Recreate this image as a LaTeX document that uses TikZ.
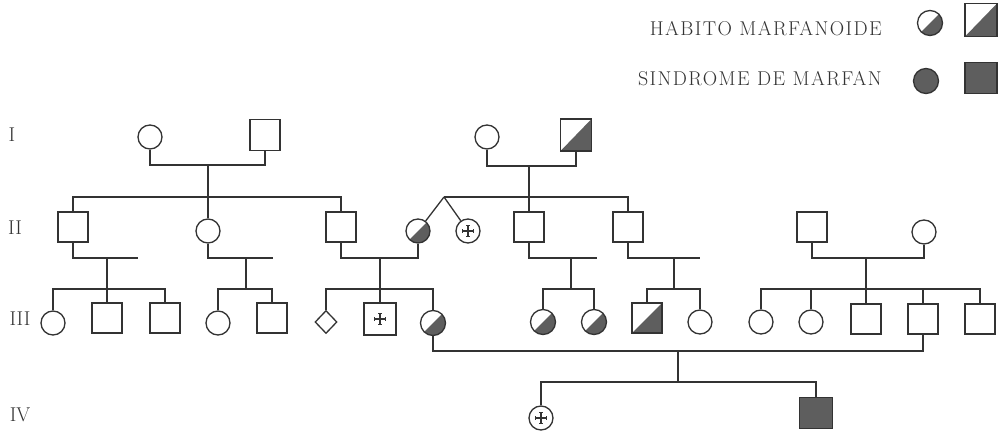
\documentclass[tikz,border=0pt]{standalone}
\usepackage{fontspec}
\usetikzlibrary{shapes.geometric}
\definecolor{pedline}{HTML}{333333}
\definecolor{affgray}{HTML}{5E5E5E}
\newfontfamily\legendfont[LetterSpace=7]{Latin Modern Roman}
\tikzset{
  male/.style={draw=pedline, line width=1.3pt, rectangle, minimum width=30, minimum height=30, inner sep=0pt},
  female/.style={draw=pedline, line width=1.3pt, circle, minimum size=24, inner sep=0pt},
  sexunk/.style={draw=pedline, line width=1.3pt, diamond, minimum width=22, minimum height=23, inner sep=0pt},
  marfan/.style={fill=affgray},
  halfmarfan/.style={path picture={\fill[affgray] (path picture bounding box.south west) -- (path picture bounding box.north east) -- (path picture bounding box.south east) -- cycle;}},
  dead/.style={path picture={\draw[pedline, line width=1.2pt, shift={(path picture bounding box.center)}]
      (-5.5,0) -- (5.5,0) (0,-5.5) -- (0,5.5)
      (-5.5,-2) -- (-5.5,2) (5.5,-2) -- (5.5,2)
      (-2,-5.5) -- (2,-5.5) (-2,5.5) -- (2,5.5);}},
  tie/.style={draw=pedline, line width=1.3pt},
  gen/.style={font=\fontsize{20}{20}\selectfont, text=pedline, inner sep=0pt},
  legendtext/.style={font=\legendfont\fontsize{20}{20}\selectfont, text=pedline, anchor=east, inner sep=0pt},
}
\begin{document}
\begin{tikzpicture}[x=1pt, y=-1pt]
  \useasboundingbox (0,0) rectangle (1004,433);
  %
  \node[legendtext] (lhab) at (882,29) {HABITO MARFANOIDE};   % legend
  \node[legendtext] (lsin) at (882,79) {SINDROME DE MARFAN};
  \node[female, halfmarfan, minimum size=25] (lc1) at (930,23) {};
  \node[male, halfmarfan, minimum width=32, minimum height=33] (ls1) at (981,20) {};
  \node[female, marfan, minimum size=25] (lc2) at (926,81) {};
  \node[male, marfan, minimum width=32, minimum height=31] (ls2) at (981,78) {};
  %
  \node[gen] (gI) at (12,135) {I};                  % generations
  \node[gen] (gII) at (15,228) {II};
  \node[gen] (gIII) at (20,319) {III};
  \node[gen] (gIV) at (20,415) {IV};
  %
  \node[female] (I1) at (150,137) {};               % generation I
  \node[male, minimum height=31] (I2) at (265,135) {};
  \node[female] (I3) at (487,137) {};
  \node[male, halfmarfan, minimum width=31, minimum height=32] (I4) at (576,135) {};
  %%
  \node[male] (II1) at (73,227) {};                 % generation II
  \node[female] (II2) at (208,231) {};
  \node[male] (II3) at (341,227) {};
  \node[female, halfmarfan] (II4) at (418,231) {};
  \node[female, dead] (II5) at (468,231) {};
  \node[male] (II6) at (529,227) {};
  \node[male] (II7) at (628,227) {};
  \node[male] (II8) at (812,227) {};
  \node[female] (II9) at (924,232) {};
  %%
  \node[female] (III1) at (53,323) {};              % generation III
  \node[male] (III2) at (107,318) {};
  \node[male] (III3) at (165,318) {};
  \node[female] (III4) at (218,323) {};
  \node[male] (III5) at (272,318) {};
  \node[sexunk] (III6) at (326,322) {};
  \node[male, dead, minimum size=32] (III7) at (380,319) {};
  \node[female, halfmarfan, minimum size=25] (III8) at (433,323) {};
  \node[female, halfmarfan, minimum size=25] (III9) at (543,322) {};
  \node[female, halfmarfan, minimum size=25] (III10) at (594,322) {};
  \node[male, halfmarfan] (III11) at (647,318) {};
  \node[female] (III12) at (700,322) {};
  \node[female] (III13) at (761,322) {};
  \node[female] (III14) at (811,322) {};
  \node[male] (III15) at (866,319) {};
  \node[male] (III16) at (923,319) {};
  \node[male] (III17) at (980,319) {};
  %%
  \node[female, dead] (IV1) at (541,418) {};        % generation IV
  \node[male, marfan, minimum width=33, minimum height=31] (IV2) at (816,413) {};
  %
  \coordinate (mI1) at (208,165);                   % junctions
  \coordinate (sII1) at (208,197);
  \coordinate (mI2) at (529,166);
  \coordinate (tw) at (444,197);
  \coordinate (eII1) at (138,258);
  \coordinate (dIII1) at (107,258);
  \coordinate (sIII1) at (107,289);
  \coordinate (eII2) at (273,258);
  \coordinate (dIII2) at (246,258);
  \coordinate (sIII2) at (246,289);
  \coordinate (dIII3) at (380,258);
  \coordinate (sIII3) at (380,289);
  \coordinate (eII6) at (597,258);
  \coordinate (dIII4) at (571,258);
  \coordinate (sIII4) at (571,289);
  \coordinate (eII7) at (700,258);
  \coordinate (dIII5) at (674,258);
  \coordinate (sIII5) at (674,289);
  \coordinate (dIII6) at (866,258);
  \coordinate (sIII6) at (866,289);
  \coordinate (dIV) at (678,351);
  \coordinate (sIV) at (678,382);
  %
  \draw[tie] (I1.south) |- (mI1) -| (I2.south);     % left couple, I
  \draw[tie] (mI1) -- (sII1);
  \draw[tie] (II1.north) |- (sII1) -| (II3.north);
  \draw[tie] (sII1) -- (II2.north);
  %
  \draw[tie] (I3.south) |- (mI2) -| (I4.south);     % right couple, I
  \draw[tie] (mI2) -- (II6.north);
  \draw[tie] (tw) -| (II7.north);
  \draw[tie] (tw) -- (II4);                         % twins
  \draw[tie] (tw) -- (II5);
  %
  \draw[tie] (II1.south) |- (eII1);                 % II1
  \draw[tie] (dIII1) -- (sIII1);
  \draw[tie] (III1.north) |- (sIII1) -| (III3.north);
  \draw[tie] (sIII1) -- (III2.north);
  %
  \draw[tie] (II2.south) |- (eII2);                 % II2
  \draw[tie] (dIII2) -- (sIII2);
  \draw[tie] (III4.north) |- (sIII2) -| (III5.north);
  %
  \draw[tie] (II3.south) |- (dIII3) -| (II4.south); % II3 x II4
  \draw[tie] (dIII3) -- (sIII3);
  \draw[tie] (III6.north) |- (sIII3) -| (III8.north);
  \draw[tie] (sIII3) -- (III7.north);
  %
  \draw[tie] (II6.south) |- (eII6);                 % II6
  \draw[tie] (dIII4) -- (sIII4);
  \draw[tie] (III9.north) |- (sIII4) -| (III10.north);
  %
  \draw[tie] (II7.south) |- (eII7);                 % II7
  \draw[tie] (dIII5) -- (sIII5);
  \draw[tie] (III11.north) |- (sIII5) -| (III12.north);
  %
  \draw[tie] (II8.south) |- (dIII6) -| (II9.south); % II8 x II9
  \draw[tie] (dIII6) -- (sIII6);
  \foreach \c in {III13,III14,III15,III16,III17}
    \draw[tie] (\c.north) |- (sIII6);
  %
  \draw[tie] (III8.south) |- (dIV) -| (III16.south); % III8 x III16
  \draw[tie] (dIV) -- (sIV);
  \draw[tie] (IV1.north) |- (sIV) -| (IV2.north);
  %
\end{tikzpicture}
\end{document}
